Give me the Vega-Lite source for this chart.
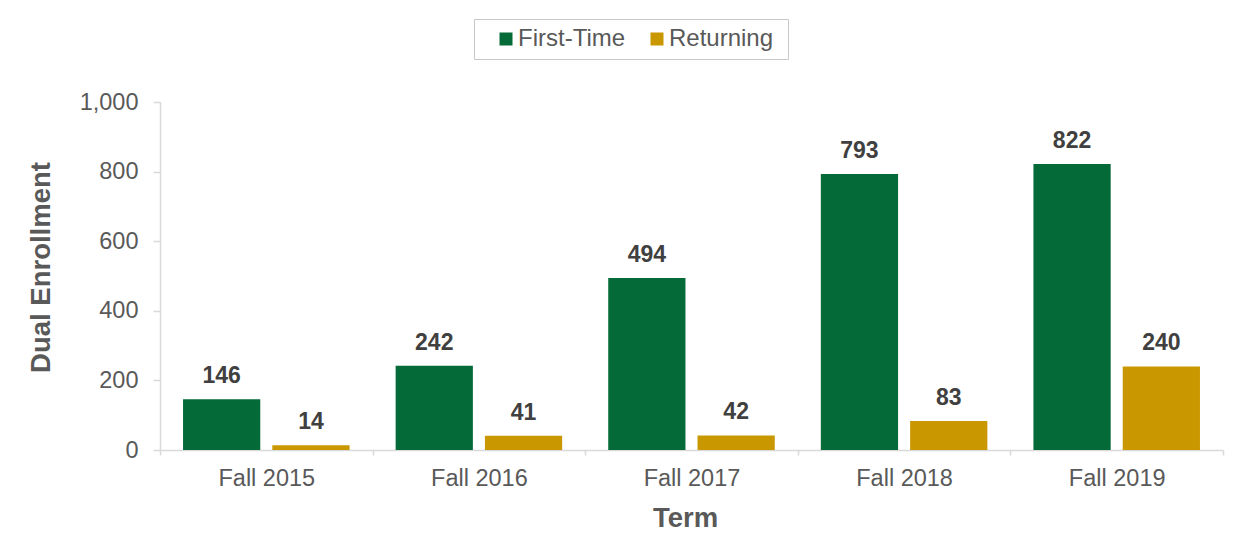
{
  "$schema": "https://vega.github.io/schema/vega-lite/v6.json",
  "autosize": "none",
  "width": 1063,
  "height": 348,
  "padding": {"left": 160, "top": 102, "right": 30, "bottom": 94},
  "background": "white",
  "config": {
    "font": "Liberation Sans",
    "view": {"stroke": null}
  },
  "data": {
    "values": [
      {"term": "Fall 2015", "type": "First-Time", "value": 146},
      {"term": "Fall 2015", "type": "Returning", "value": 14},
      {"term": "Fall 2016", "type": "First-Time", "value": 242},
      {"term": "Fall 2016", "type": "Returning", "value": 41},
      {"term": "Fall 2017", "type": "First-Time", "value": 494},
      {"term": "Fall 2017", "type": "Returning", "value": 42},
      {"term": "Fall 2018", "type": "First-Time", "value": 793},
      {"term": "Fall 2018", "type": "Returning", "value": 83},
      {"term": "Fall 2019", "type": "First-Time", "value": 822},
      {"term": "Fall 2019", "type": "Returning", "value": 240}
    ]
  },
  "encoding": {
    "x": {
      "field": "term",
      "type": "nominal",
      "scale": {"paddingInner": 0, "paddingOuter": 0},
      "axis": {
        "title": "Term",
        "labelAngle": 0,
        "labelFontSize": 23.5,
        "labelColor": "#595959",
        "labelPadding": 11,
        "tickSize": 5,
        "tickColor": "#d9d9d9",
        "domainColor": "#d9d9d9",
        "domainWidth": 1.5,
        "tickWidth": 1.5,
        "tickBand": "extent",
        "titleFontSize": 27.5,
        "titleFontWeight": "bold",
        "titleColor": "#595959",
        "titlePadding": 15,
        "titleX": 525
      }
    },
    "xOffset": {
      "field": "type",
      "type": "nominal",
      "scale": {"paddingInner": 0.135, "paddingOuter": 0.258}
    },
    "y": {
      "field": "value",
      "type": "quantitative",
      "scale": {"domain": [0, 1000]},
      "axis": {
        "title": "Dual Enrollment",
        "values": [0, 200, 400, 600, 800, 1000],
        "format": ",d",
        "grid": false,
        "labelFontSize": 23.5,
        "labelColor": "#595959",
        "labelPadding": 15,
        "tickSize": 7,
        "tickColor": "#d9d9d9",
        "domainColor": "#d9d9d9",
        "domainWidth": 1.5,
        "tickWidth": 1.5,
        "titleFontSize": 27.5,
        "titleFontWeight": "bold",
        "titleColor": "#595959",
        "titlePadding": 24,
        "titleY": 165
      }
    }
  },
  "layer": [
    {
      "mark": {"type": "bar"},
      "encoding": {
        "color": {
          "field": "type",
          "type": "nominal",
          "scale": {"domain": ["First-Time", "Returning"], "range": ["#046A38", "#C99700"]},
          "legend": {
            "title": " ",
            "titleOrient": "right",
            "titleFontSize": 2,
            "titlePadding": 7,
            "orient": "none",
            "legendX": 314,
            "legendY": -83,
            "direction": "horizontal",
            "symbolType": "square",
            "symbolSize": 169,
            "symbolStrokeWidth": 0,
            "symbolOffset": 12,
            "labelFontSize": 24,
            "labelColor": "#595959",
            "labelOffset": 0,
            "columnPadding": 7,
            "strokeColor": "#c8c8c8",
            "padding": 8,
            "offset": 0
          }
        }
      }
    },
    {
      "mark": {"type": "text", "fontSize": 23, "fontWeight": "bold", "color": "#404040", "baseline": "alphabetic", "dy": -16},
      "encoding": {
        "text": {"field": "value", "type": "quantitative"}
      }
    }
  ]
}
